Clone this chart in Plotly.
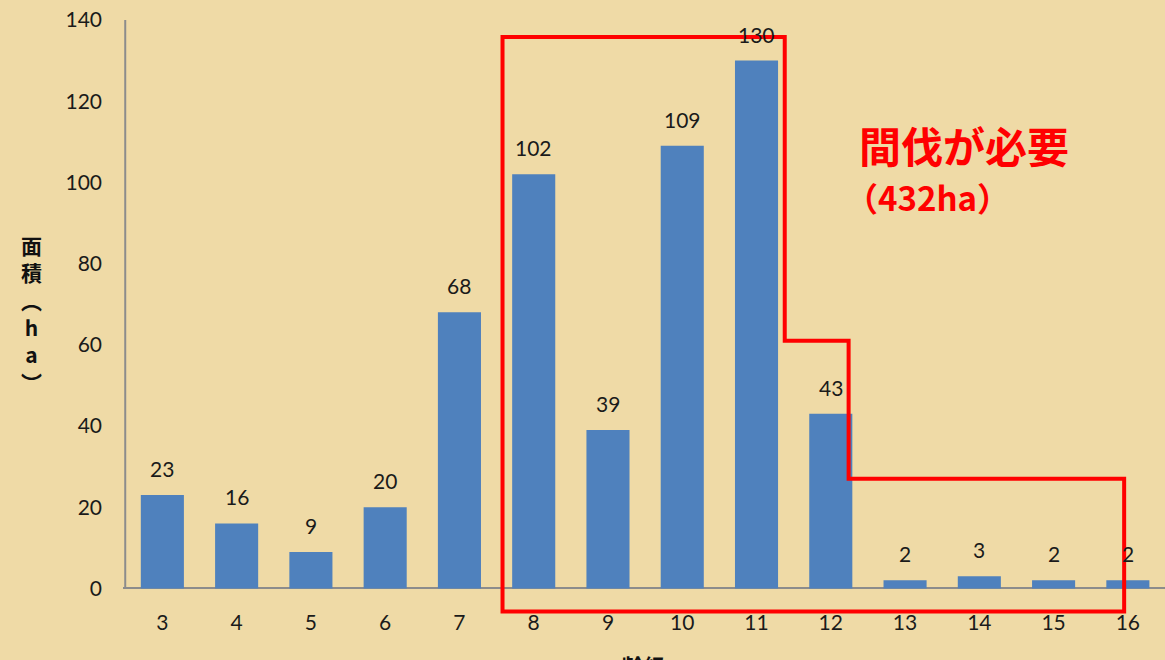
import plotly.graph_objects as go

# data
age_classes = [3, 4, 5, 6, 7, 8, 9, 10, 11, 12, 13, 14, 15, 16]
areas = [23, 16, 9, 20, 68, 102, 39, 109, 130, 43, 2, 3, 2, 2]
y_ticks = [0, 20, 40, 60, 80, 100, 120, 140]
# red outline around the thinning-needed classes (x in age-class units, y in ha)
box_x = [7.58, 11.38, 11.38, 12.24, 12.24, 15.95, 15.95, 7.58]
box_y = [135.8, 135.8, 61, 61, 27, 27, -5.7, -5.7]

BG = "#EFDAA6"
BAR = "#4F81BD"
FONT = "Lato, 'Noto Sans', sans-serif"

fig = go.Figure()
fig.add_trace(go.Bar(x=age_classes, y=areas, marker=dict(color=BAR, line=dict(width=0)),
                     width=0.58, hoverinfo="x+y"))

# value labels
for xv, yv in zip(age_classes, areas):
    fig.add_annotation(x=xv, y=yv, text=str(yv), showarrow=False, yanchor="bottom",
                       yshift=12, font=dict(size=21, color="#1a1a1a", family=FONT))

# red outline
path = "M " + " L ".join(f"{a},{b}" for a, b in zip(box_x, box_y)) + " Z"
fig.add_shape(type="path", path=path, xref="x", yref="y",
              line=dict(color="#FF0000", width=4), layer="above")

# y axis line (stops at zero)
fig.add_shape(type="line", xref="x", yref="y", x0=2.5, x1=2.5, y0=0, y1=y_ticks[-1],
              line=dict(color="#8C8C8C", width=2))

# red note
fig.add_annotation(x=12.35, y=109.3, xref="x", yref="y", text="<b>間伐が必要</b>", showarrow=False,
                   xanchor="left", yanchor="middle",
                   font=dict(size=42, color="#FF0000", family="'Noto Sans CJK JP'"))
fig.add_annotation(x=12.17, y=96.5, xref="x", yref="y", text="<b>（432ha）</b>", showarrow=False,
                   xanchor="left", yanchor="middle",
                   font=dict(size=33, color="#FF0000", family="'Noto Sans CJK JP'"))

# y axis title (vertical stacked)
fig.add_annotation(xref="paper", yref="paper", x=0, xshift=-92, y=0.506, text="<b>面<br>積<br>︵<br>h<br>a<br>︶</b>",
                   showarrow=False, xanchor="center", yanchor="middle",
                   font=dict(size=21, color="#111", family="'Noto Sans CJK JP'"))
# x axis title
fig.add_annotation(xref="paper", yref="paper", x=0.5, y=0, yshift=-33, text="<b>齢級</b>",
                   showarrow=False, xanchor="center", yanchor="top",
                   font=dict(size=23, color="#111", family="'Noto Sans CJK JP'"))

fig.update_layout(
    width=1165, height=660,
    paper_bgcolor=BG, plot_bgcolor=BG,
    margin=dict(l=123, r=0, t=20, b=46),
    showlegend=False,
    bargap=0.42,
    xaxis=dict(range=[2.47, 16.5], tickmode="array", tickvals=age_classes,
               ticktext=[str(a) for a in age_classes], showgrid=False, zeroline=False,
               showline=False, ticks="", ticklabelstandoff=-6,
               tickfont=dict(size=21, color="#1a1a1a", family=FONT)),
    yaxis=dict(range=[-6.3, 140], tickmode="array", tickvals=y_ticks, showgrid=False,
               zeroline=True, zerolinecolor="#8C8C8C", zerolinewidth=2,
               showline=False, ticks="", ticklabelstandoff=20,
               tickfont=dict(size=21, color="#1a1a1a", family=FONT)),
)

fig.write_html("out.html", config={"displayModeBar": False},
               post_script="document.body.style.margin='0';document.body.style.background='" + BG + "';")
